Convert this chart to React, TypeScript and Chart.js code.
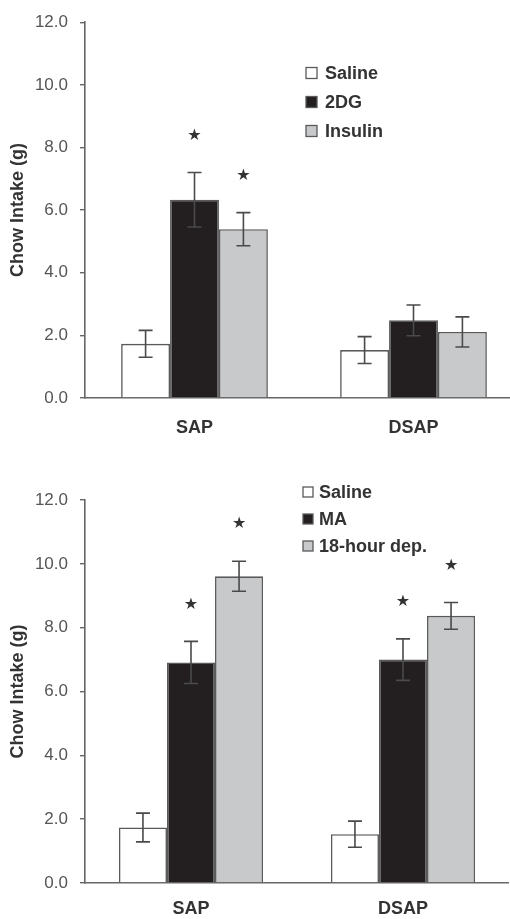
import React, { useEffect, useRef } from 'react';
import { Chart, registerables } from 'chart.js';

Chart.register(...registerables);

const FONT = '"Liberation Sans", Arial, Helvetica, sans-serif';

// ---- data ----
const categories = ['SAP', 'DSAP'];
const yTickValues = [0, 2, 4, 6, 8, 10, 12];
const yAxisTitle = 'Chow Intake (g)';

// top panel
const topLabels = ['Saline', '2DG', 'Insulin'];
const topSaline = [1.73, 1.53];
const topSalineErr = [0.43, 0.43];
const topSalineStar = [false, false];
const top2DG = [6.33, 2.48];
const top2DGErr = [0.87, 0.49];
const top2DGStar = [true, false];
const topInsulin = [5.39, 2.11];
const topInsulinErr = [0.53, 0.48];
const topInsulinStar = [true, false];

// bottom panel
const bottomLabels = ['Saline', 'MA', '18-hour dep.'];
const bottomSaline = [1.74, 1.53];
const bottomSalineErr = [0.45, 0.41];
const bottomSalineStar = [false, false];
const bottomMA = [6.91, 7.0];
const bottomMAErr = [0.66, 0.65];
const bottomMAStar = [true, true];
const bottomDep = [9.61, 8.37];
const bottomDepErr = [0.47, 0.42];
const bottomDepStar = [true, true];

// ---- styles ----
const FILLS = ['#ffffff', '#231f20', '#c8c9cb'];
const BORDER = '#5a5a5a';
const ERR_COLOR = '#4a4a4a';
const AXIS_COLOR = '#666666';
const TEXT_DARK = '#333333';
const TICK_TEXT = '#555555';

type LegendSpec = { x: number; y: number; gap: number; box: number; textX: number };

function overlayPlugin(legend: LegendSpec) {
  return {
    id: 'overlay',
    afterDatasetsDraw(chart: any) {
      const ctx = chart.ctx;
      const y = chart.scales.y;
      chart.data.datasets.forEach((ds: any, i: number) => {
        const meta = chart.getDatasetMeta(i);
        meta.data.forEach((bar: any, j: number) => {
          const v = ds.data[j];
          const e = ds.errors[j];
          const x = bar.x;
          const yHi = y.getPixelForValue(v + e);
          const yLo = y.getPixelForValue(v - e);
          const cap = 7;
          ctx.save();
          ctx.strokeStyle = ERR_COLOR;
          ctx.lineWidth = 1.6;
          ctx.beginPath();
          ctx.moveTo(x, yLo);
          ctx.lineTo(x, yHi);
          ctx.moveTo(x - cap, yHi);
          ctx.lineTo(x + cap, yHi);
          ctx.moveTo(x - cap, yLo);
          ctx.lineTo(x + cap, yLo);
          ctx.stroke();
          if (ds.stars[j]) {
            ctx.fillStyle = TEXT_DARK;
            ctx.font = `16px "DejaVu Sans", sans-serif`;
            ctx.textAlign = 'center';
            ctx.textBaseline = 'middle';
            ctx.fillText('\u2605', x, yHi - 37);
          }
          ctx.restore();
        });
      });
    },
    afterDraw(chart: any) {
      const ctx = chart.ctx;
      ctx.save();
      chart.data.datasets.forEach((ds: any, i: number) => {
        const cy = legend.y + i * legend.gap;
        ctx.fillStyle = ds.backgroundColor;
        ctx.strokeStyle = BORDER;
        ctx.lineWidth = 1.3;
        ctx.fillRect(legend.x, cy - legend.box / 2, legend.box, legend.box);
        ctx.strokeRect(legend.x, cy - legend.box / 2, legend.box, legend.box);
        ctx.fillStyle = TEXT_DARK;
        ctx.font = `bold 18px ${FONT}`;
        ctx.textAlign = 'left';
        ctx.textBaseline = 'middle';
        ctx.fillText(ds.label, legend.textX, cy + 1);
      });
      ctx.restore();
    },
  };
}

function makeDatasets(labels: string[], values: number[][], errs: number[][], stars: boolean[][]) {
  return labels.map((label, i) => ({
    label,
    data: values[i],
    errors: errs[i],
    stars: stars[i],
    backgroundColor: FILLS[i],
    borderColor: BORDER,
    borderWidth: 1.6,
  }));
}

function makeConfig(
  datasets: any[],
  catPct: number,
  padTop: number,
  xAxisHeight: number,
  xLabelPad: number,
  legend: LegendSpec
) {
  return {
    type: 'bar',
    data: { labels: categories, datasets },
    options: {
      responsive: false,
      animation: false,
      maintainAspectRatio: false,
      layout: { padding: { top: padTop, left: 0, right: 0, bottom: 0 } },
      datasets: { bar: { categoryPercentage: catPct, barPercentage: 1.0 } },
      plugins: { legend: { display: false }, tooltip: { enabled: false }, title: { display: false } },
      scales: {
        x: {
          type: 'category',
          offset: true,
          grid: { display: false, drawTicks: false },
          border: { display: true, color: AXIS_COLOR, width: 1.6 },
          ticks: { padding: xLabelPad, color: TEXT_DARK, font: { family: FONT, size: 18, weight: 'bold' } },
          afterFit: (s: any) => {
            s.height = xAxisHeight;
          },
        },
        y: {
          type: 'linear',
          min: 0,
          max: 12,
          afterBuildTicks: (s: any) => {
            s.ticks = yTickValues.map((v) => ({ value: v }));
          },
          grid: { display: true, drawOnChartArea: false, drawTicks: true, tickLength: 5, color: AXIS_COLOR, lineWidth: 1.4 },
          border: { display: true, color: AXIS_COLOR, width: 1.6 },
          ticks: {
            padding: 12,
            color: TICK_TEXT,
            font: { family: FONT, size: 17 },
            callback: (v: any) => Number(v).toFixed(1),
          },
          title: {
            display: true,
            text: yAxisTitle,
            color: TEXT_DARK,
            font: { family: FONT, size: 18, weight: 'bold' },
            padding: { top: 7, bottom: 0 },
          },
          afterFit: (s: any) => {
            s.width = 85;
          },
        },
      },
    },
    plugins: [overlayPlugin(legend)],
  };
}

export default function App() {
  const topRef = useRef<HTMLCanvasElement | null>(null);
  const bottomRef = useRef<HTMLCanvasElement | null>(null);

  useEffect(() => {
    const topDs = makeDatasets(
      topLabels,
      [topSaline, top2DG, topInsulin],
      [topSalineErr, top2DGErr, topInsulinErr],
      [topSalineStar, top2DGStar, topInsulinStar]
    );
    const bottomDs = makeDatasets(
      bottomLabels,
      [bottomSaline, bottomMA, bottomDep],
      [bottomSalineErr, bottomMAErr, bottomDepErr],
      [bottomSalineStar, bottomMAStar, bottomDepStar]
    );
    const c1 = new Chart(
      topRef.current as HTMLCanvasElement,
      makeConfig(topDs, 0.67, 15, 62, 19, { x: 306, y: 73, gap: 29, box: 11, textX: 325 }) as any
    );
    const c2 = new Chart(
      bottomRef.current as HTMLCanvasElement,
      makeConfig(bottomDs, 0.68, 40, 36, 15, { x: 303, y: 32, gap: 27, box: 10, textX: 319 }) as any
    );
    return () => {
      c1.destroy();
      c2.destroy();
    };
  }, []);

  return (
    <div
      style={{
        position: 'fixed',
        left: 0,
        top: 0,
        width: 510,
        height: 919,
        overflow: 'hidden',
        background: '#ffffff',
      }}
    >
      <canvas
        ref={topRef}
        width={523}
        height={460}
        style={{ position: 'absolute', left: 0, top: 0, width: 523, height: 460, display: 'block' }}
      />
      <canvas
        ref={bottomRef}
        width={509}
        height={459}
        style={{ position: 'absolute', left: 0, top: 460, width: 509, height: 459, display: 'block' }}
      />
    </div>
  );
}
